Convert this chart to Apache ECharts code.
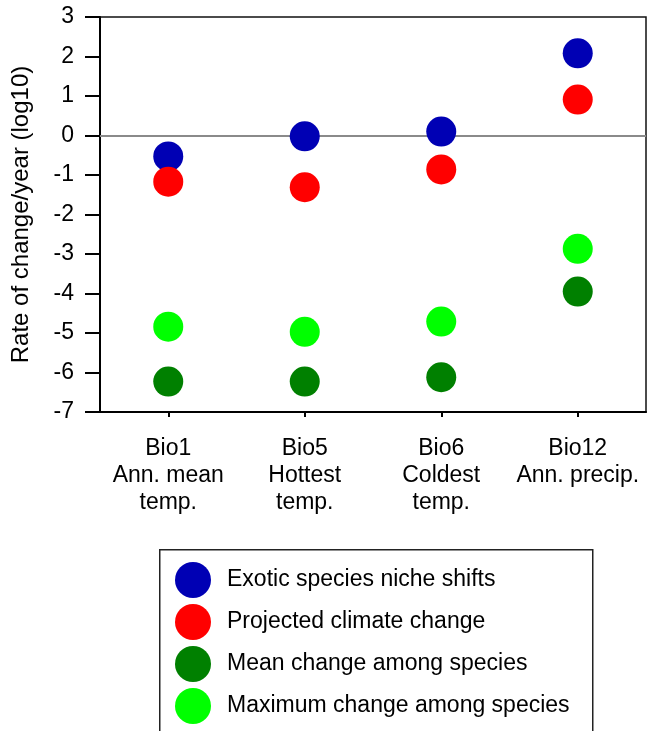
<!DOCTYPE html>
<html>
<head>
<meta charset="utf-8">
<script src="https://cdn.jsdelivr.net/npm/echarts@6/dist/echarts.min.js"></script>
<style>html,body{margin:0;padding:0;background:#fff;}#c{width:654px;height:731px;}</style>
</head>
<body>
<div id="c"></div>
<script>
const categories = ['Bio1\nAnn. mean\ntemp.', 'Bio5\nHottest\ntemp.', 'Bio6\nColdest\ntemp.', 'Bio12\nAnn. precip.'];
const exoticShifts = [-0.53, -0.02, 0.1, 2.08];
const projectedClimate = [-1.17, -1.31, -0.86, 0.91];
const meanChange = [-6.23, -6.23, -6.12, -3.95];
const maxChange = [-4.84, -4.97, -4.71, -2.87];
const yTicks = [-7, 3, 1];

const FONT = 'Liberation Sans, Arial, Helvetica, sans-serif';
const chart = echarts.init(document.getElementById('c'), null, {renderer: 'canvas'});
function sc(name, data, color) {
  return {
    name: name, type: 'scatter', data: data, symbol: 'circle', symbolSize: 30,
    itemStyle: {color: color, opacity: 1}, silent: true, animation: false
  };
}
const series = [
  sc('Exotic species niche shifts', exoticShifts, '#0000b4'),
  sc('Projected climate change', projectedClimate, '#ff0000'),
  sc('Mean change among species', meanChange, '#008000'),
  sc('Maximum change among species', maxChange, '#00ff00')
];
series[0].markLine = {
  silent: true, symbol: ['none', 'none'], label: {show: false},
  lineStyle: {color: '#8a8a8a', width: 2, type: 'solid'},
  data: [{yAxis: 0}], animation: false, z: 1
};
chart.setOption({
  animation: false,
  backgroundColor: '#fff',
  textStyle: {fontFamily: FONT},
  grid: {left: 100, right: 8, top: 17, bottom: 319, show: true, borderColor: '#111', borderWidth: 1.5, backgroundColor: 'transparent'},
  xAxis: {
    type: 'category', data: categories, boundaryGap: true,
    axisLine: {onZero: false, lineStyle: {color: '#000', width: 2}},
    axisTick: {show: true, alignWithLabel: true, length: 5, inside: false, lineStyle: {color: '#000', width: 2}},
    axisLabel: {color: '#000', fontSize: 23, lineHeight: 27, margin: 23, fontFamily: FONT, interval: 0},
    splitLine: {show: false}
  },
  yAxis: {
    type: 'value', min: yTicks[0], max: yTicks[1], interval: yTicks[2],
    name: 'Rate of change/year (log10)', nameLocation: 'middle', nameRotate: 90, nameGap: 67,
    nameTextStyle: {color: '#000', fontSize: 24, fontFamily: FONT},
    axisLine: {show: true, lineStyle: {color: '#000', width: 2}},
    axisTick: {show: true, length: 15, lineStyle: {color: '#000', width: 2}},
    axisLabel: {color: '#000', fontSize: 23, margin: 26, fontFamily: FONT},
    splitLine: {show: false}
  },
  legend: {
    orient: 'vertical', left: 159, top: 549,
    icon: 'circle', itemWidth: 36, itemHeight: 36, itemGap: 6,
    padding: [13, 0, 0, 16],
    textStyle: {color: '#000', fontSize: 23, fontFamily: FONT, padding: [0, 0, 0, 11]},
    selectedMode: false,
    data: series.map(s => s.name)
  },
  graphic: [{
    type: 'rect', left: 159, top: 549, silent: true, z: -1,
    shape: {width: 433, height: 200},
    style: {fill: '#fff', stroke: '#222', lineWidth: 1.5}
  }],
  series: series
});
</script>
</body>
</html>
